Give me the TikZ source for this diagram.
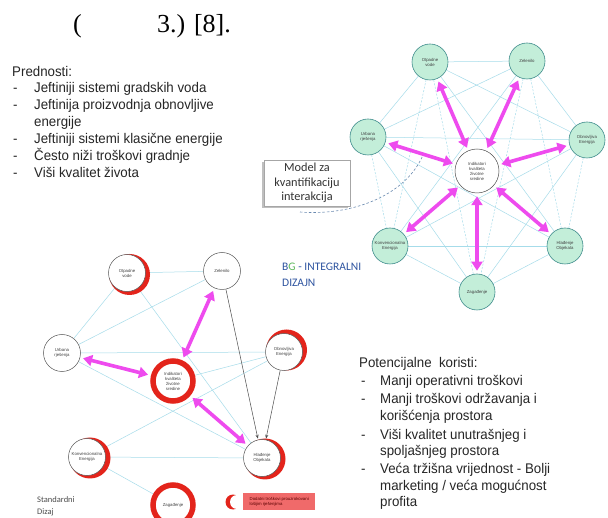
\documentclass[tikz,border=0pt]{standalone}
\usepackage{fontspec}
\setmainfont{Liberation Sans}
\newfontfamily\arialn[FakeStretch=0.95]{Liberation Sans}
\newfontfamily\timesf{Liberation Serif}
\newfontfamily\calib{Carlito}
\usetikzlibrary{arrows.meta,backgrounds}
\definecolor{mag}{HTML}{EE4BEE}
\definecolor{mint}{HTML}{C3EED9}
\definecolor{tealb}{HTML}{3E8C8C}
\definecolor{cyanl}{HTML}{A6DCEA}
\definecolor{redc}{HTML}{E3241B}
\definecolor{bgblue}{HTML}{2E54A0}
\definecolor{bggreen}{HTML}{5DB85C}
\definecolor{legred}{HTML}{F06A6A}
\definecolor{dashc}{HTML}{6A8AB0}
\newcommand{\nodefont}{\fontsize{4.3}{5}\selectfont}
\tikzset{
  rn/.style={circle, draw=tealb, line width=0.6pt, fill=mint, minimum size=36pt, inner sep=0pt, align=center, font=\nodefont, text=black!75},
  rcen/.style={circle, draw=black!70, line width=0.5pt, fill=white, minimum size=44pt, inner sep=0pt, align=center, font=\nodefont, text=black!75},
  bn/.style={circle, draw=black!65, line width=0.5pt, fill=white, minimum size=37pt, inner sep=0pt, align=center, font=\nodefont, text=black!75},
  bring/.style={circle, draw=redc, line width=5.5pt, fill=white, minimum size=40pt, inner sep=0pt, align=center, font=\nodefont, text=black!75},
  mg/.style={draw=mag, line width=3.6pt, {Triangle[length=9pt,width=11pt]}-{Triangle[length=9pt,width=11pt]}, shorten >=3pt, shorten <=3pt},
  cl/.style={draw=cyanl, line width=0.5pt},
  cld/.style={draw=cyanl, line width=0.5pt, dash pattern=on 2pt off 1.5pt},
  blk/.style={draw=black!70, line width=0.5pt, -{Stealth[length=4pt,width=3pt]}, shorten >=1pt},
  txt/.style={anchor=mid west, inner sep=0pt, font=\arialn\fontsize{14}{16}\selectfont, text=black!85},
}
\begin{document}
\begin{tikzpicture}[x=1pt,y=-1pt]
\useasboundingbox (0,0) rectangle (608,518);

% caption
\node[anchor=base west, inner sep=0pt, font=\timesf\fontsize{26}{30}\selectfont] (cap1) at (73,33) {(};
\node[anchor=base west, inner sep=0pt, font=\timesf\fontsize{26}{30}\selectfont] (cap2) at (157,33) {3.) [8].};

% left text
\node[txt] (p0) at (12,74) {Prednosti:};
\node[txt] (p1d) at (13,90) {-};   \node[txt] (p1) at (34,90) {Jeftiniji sistemi gradskih voda};
\node[txt] (p2d) at (13,107) {-};  \node[txt] (p2) at (34,107) {Jeftinija proizvodnja obnovljive};
\node[txt] (p2b) at (34,124) {energije};
\node[txt] (p3d) at (13,141) {-};  \node[txt] (p3) at (34,141) {Jeftiniji sistemi klasične energije};
\node[txt] (p4d) at (13,158) {-};  \node[txt] (p4) at (34,158) {Često niži troškovi gradnje};
\node[txt] (p5d) at (13,175) {-};  \node[txt] (p5) at (34,175) {Viši kvalitet života};

% right text
\node[txt] (k0) at (359,365) {Potencijalne\ \ koristi:};
\node[txt] (k1d) at (361,383) {-};  \node[txt] (k1) at (380,383) {Manji operativni troškovi};
\node[txt] (k2d) at (361,401) {-};  \node[txt] (k2) at (380,401) {Manji troškovi održavanja i};
\node[txt] (k2b) at (380,418) {korišćenja prostora};
\node[txt] (k3d) at (361,437) {-};  \node[txt] (k3) at (380,437) {Viši kvalitet unutrašnjeg i};
\node[txt] (k3b) at (380,453) {spoljašnjeg prostora};
\node[txt] (k4d) at (361,471) {-};  \node[txt] (k4) at (380,471) {Veća tržišna vrijednost - Bolji};
\node[txt] (k4b) at (380,488) {marketing / veća mogućnost};
\node[txt] (k4c) at (380,504) {profita};

% ---------- right graph ----------
\node[rcen] (rc) at (477,171) {Indikatori\\kvaliteta\\životne\\sredine};
\node[rn] (rov) at (430,62) {Otpadne\\vode};
\node[rn] (rze) at (527,61) {Zelenilo};
\node[rn] (rur) at (368,137) {Urbana\\rješenja};
\node[rn] (rob) at (587,140) {Obnovljiva\\Energija};
\node[rn] (rko) at (390,246) {Konvencionalna\\Energija};
\node[rn] (rhl) at (565,246) {Hlađenje\\Objekata};
\node[rn] (rza) at (477,292) {Zagađenje};

% model box
\node[draw=black!35, line width=0.6pt, fill=white, minimum width=86pt, minimum height=46pt, align=center, inner sep=1pt, font=\calib\fontsize{12.3}{14.5}\selectfont, text=black!80] (model) at (307,183) {Model za\\kvantifikaciju\\interakcija};
\coordinate (dend) at (423,155);
\coordinate (dstart) at (300,212);

% ---------- bottom graph ----------
\coordinate (bovc) at (127,273);
\coordinate (bobc) at (284,352);
\coordinate (bkoc) at (87,457);
\coordinate (bhlc) at (262,458);
\fill[redc] ([shift={(2.5,1.5)}]bovc) circle (20.5pt);
\fill[redc] ([shift={(2.5,-2)}]bobc) circle (20.5pt);
\fill[redc] ([shift={(3,1)}]bkoc) circle (20.5pt);
\fill[redc] ([shift={(3,1)}]bhlc) circle (20.5pt);
\node[bn] (bov) at (bovc) {Otpadne\\vode};
\node[bn] (bob) at (bobc) {Obnovljiva\\Energija};
\node[bn] (bko) at (bkoc) {Konvencionalna\\Energija};
\node[bn] (bhl) at (bhlc) {Hlađenje\\Objekata};
\node[bn] (bze) at (222,271) {Zelenilo};
\node[bn] (bur) at (62,353) {Urbana\\rješenja};
\node[bring] (bc) at (173,381) {Indikatori\\kvaliteta\\životne\\sredine};
\node[bring] (bza) at (173,505) {Zagađenje};

% legend
\coordinate (legc) at (233,502);
\fill[redc] (legc) circle (7.5pt);
\fill[white] ([shift={(4,0)}]legc) circle (7pt);
\node[fill=legred, minimum width=72pt, minimum height=17pt, anchor=west, align=left, inner sep=2pt, font=\nodefont, text=red!35!black] (leg) at (243,501.5) {Dodatni troškovi prouzrokovani\\lošijim rješenjima};

% labels
\node[anchor=mid west, inner sep=0pt, font=\calib\fontsize{11.5}{14}\selectfont, text=bgblue] (bg1) at (282,268) {B\textcolor{bggreen}{G} - INTEGRALNI};
\node[anchor=mid west, inner sep=0pt, font=\calib\fontsize{11.5}{14}\selectfont, text=bgblue] (bg2) at (282,284) {DIZAJN};
\node[anchor=mid west, inner sep=0pt, font=\calib\fontsize{8.5}{10}\selectfont, text=black!70] (sd1) at (37,500) {Standardni};
\node[anchor=mid west, inner sep=0pt, font=\calib\fontsize{8.5}{10}\selectfont, text=black!70] (sd2) at (37,512) {Dizaj};

% background connectors
\begin{scope}[on background layer]
\fill[white] (0,0) rectangle (608,518);
\fill[black!25] ([shift={(-2,2)}]model.north west) rectangle ([shift={(-2,2)}]model.south east);
% right graph complete web
\draw[cl] (rov) -- (rze);  \draw[cl] (rov) -- (rur);  \draw[cl] (rov) -- (rob);
\draw[cld] (rov) -- (rko); \draw[cl] (rov) -- (rhl);  \draw[cld] (rov) -- (rza);
\draw[cl] (rze) -- (rur);  \draw[cl] (rze) -- (rob);  \draw[cl] (rze) -- (rko);
\draw[cld] (rze) -- (rhl); \draw[cld] (rze) -- (rza);
\draw[cl] (rur) -- (rob);  \draw[cld] (rur) -- (rko); \draw[cl] (rur) -- (rhl); \draw[cl] (rur) -- (rza);
\draw[cl] (rob) -- (rko);  \draw[cld] (rob) -- (rhl); \draw[cl] (rob) -- (rza);
\draw[cl] (rko) -- (rhl);  \draw[cl] (rko) -- (rza);  \draw[cl] (rhl) -- (rza);
% bottom graph
\draw[cl] (bov) -- (bze);  \draw[cl] (bov) -- (bur);  \draw[cl] (bov) -- (bhl);
\draw[cl] (bur) -- (bze);  \draw[cl] (bur) -- (bob);  \draw[cl] (bur) -- (bhl);
\draw[cl] (bc) -- (bob);   \draw[cl] (bko) -- (bob);  \draw[cl] (bko) -- (bhl);
\draw[cl] (bko) -- (bza);
\end{scope}

% dashed curve
\draw[draw=dashc, line width=0.6pt, dash pattern=on 2.5pt off 2pt] (dstart) .. controls (350,216) and (405,197) .. (dend);

% magenta arrows right
\foreach \t in {rov,rze,rur,rob,rko,rhl,rza} { \draw[mg] (rc) -- (\t); }
% magenta arrows bottom
\draw[mg] (bze) -- (bc);
\draw[mg] (bur) -- (bc);
\draw[mg] (bc) -- (bhl);
% black arrows
\draw[blk] (bze) -- (bhl);
\draw[blk] (bob) -- (bhl);
\end{tikzpicture}
\end{document}
